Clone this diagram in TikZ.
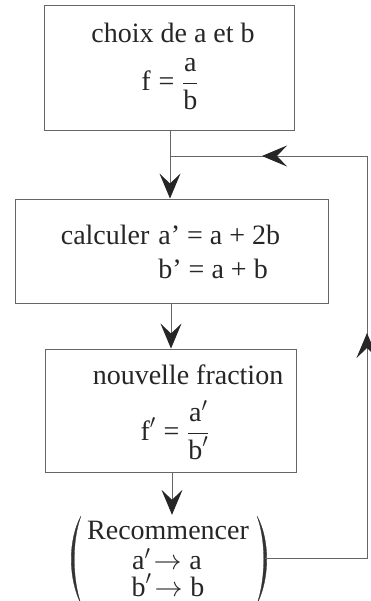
\RequirePackage{fix-cm}
\documentclass[tikz,border=0pt]{standalone}
\usepackage{fontspec}
\usepackage{amsmath}
\setmainfont{Liberation Serif}
\usetikzlibrary{arrows.meta}
\begin{document}
\begin{tikzpicture}[x=1pt,y=-1pt,
  ln/.style={draw=black!60, line width=0.9pt},
  box/.style={ln, rectangle, inner sep=0pt},
  txt/.style={font=\fontsize{28}{30}\selectfont, text=black!85, inner sep=0pt},
  tip/.style={ln, -{Stealth[length=25pt,width=21pt,inset=10pt,color=black!85,fill=black!85]}},
  paren/.style={fill=black!80, draw=black!80, line width=0.3pt}]
\useasboundingbox[fill=white] (0,0) rectangle (370,601);
% boxes
\node[box, minimum width=250pt, minimum height=125pt] (b1) at (169,67.5) {};
\node[box, minimum width=313pt, minimum height=104pt] (b2) at (171.5,251) {};
\node[box, minimum width=251pt, minimum height=123pt] (b3) at (170.5,410.5) {};
\node[inner sep=0pt, minimum width=192pt, minimum height=86pt] (rec) at (169,558) {};
% texts
\node[txt] (t1) at (173,33) {choix de a et b};
\node[txt] (f1) at (170,84) {$\text{f} \mathrel{\text{=}} \dfrac{\text{a}}{\text{b}}$};
\node[txt] (t2) at (170.5,255) {\begin{tabular}{@{}l@{\hspace{9pt}}l@{}}calculer & a’ = a + 2b\\[4pt] & b’ = a + b\end{tabular}};
\node[txt] (t3) at (188,375) {nouvelle fraction};
\node[txt] (f3) at (175,430) {$\text{f}' \mathrel{\text{=}} \dfrac{\text{a}'}{\text{b}'}$};
\node[txt] (r1) at (168,530) {Recommencer};
\node[txt] (r2) at (167,559) {$\text{a}'\!\rightarrow\text{a}$};
\node[txt] (r3) at (168,585) {$\text{b}'\!\rightarrow\text{b}$};
% parentheses
\fill[paren] (81,516) .. controls (68,540) and (68,578) .. (81,604) .. controls (72,578) and (72,540) .. cycle;
\fill[paren] (257,516) .. controls (270,540) and (270,578) .. (257,604) .. controls (266,578) and (266,540) .. cycle;
% connectors
\coordinate (j) at (170,156);
\coordinate (c1) at (367,156);
\coordinate (c2) at (367,558);
\coordinate (upTip) at (367,333);
\coordinate (leftTip) at (262,156);
\draw[tip] (b1.south -| j) -- (b2.north -| j);
\draw[tip] (b2.south -| 171,0) -- (b3.north -| 171,0);
\draw[tip] (b3.south -| 172,0) -- (rec.north -| 172,0);
\draw[ln] (rec.east) -- (c2) -- (c1) -- (j);
\draw[tip] (c2) -- (upTip);
\draw[tip] (c1) -- (leftTip);
\end{tikzpicture}
\end{document}
